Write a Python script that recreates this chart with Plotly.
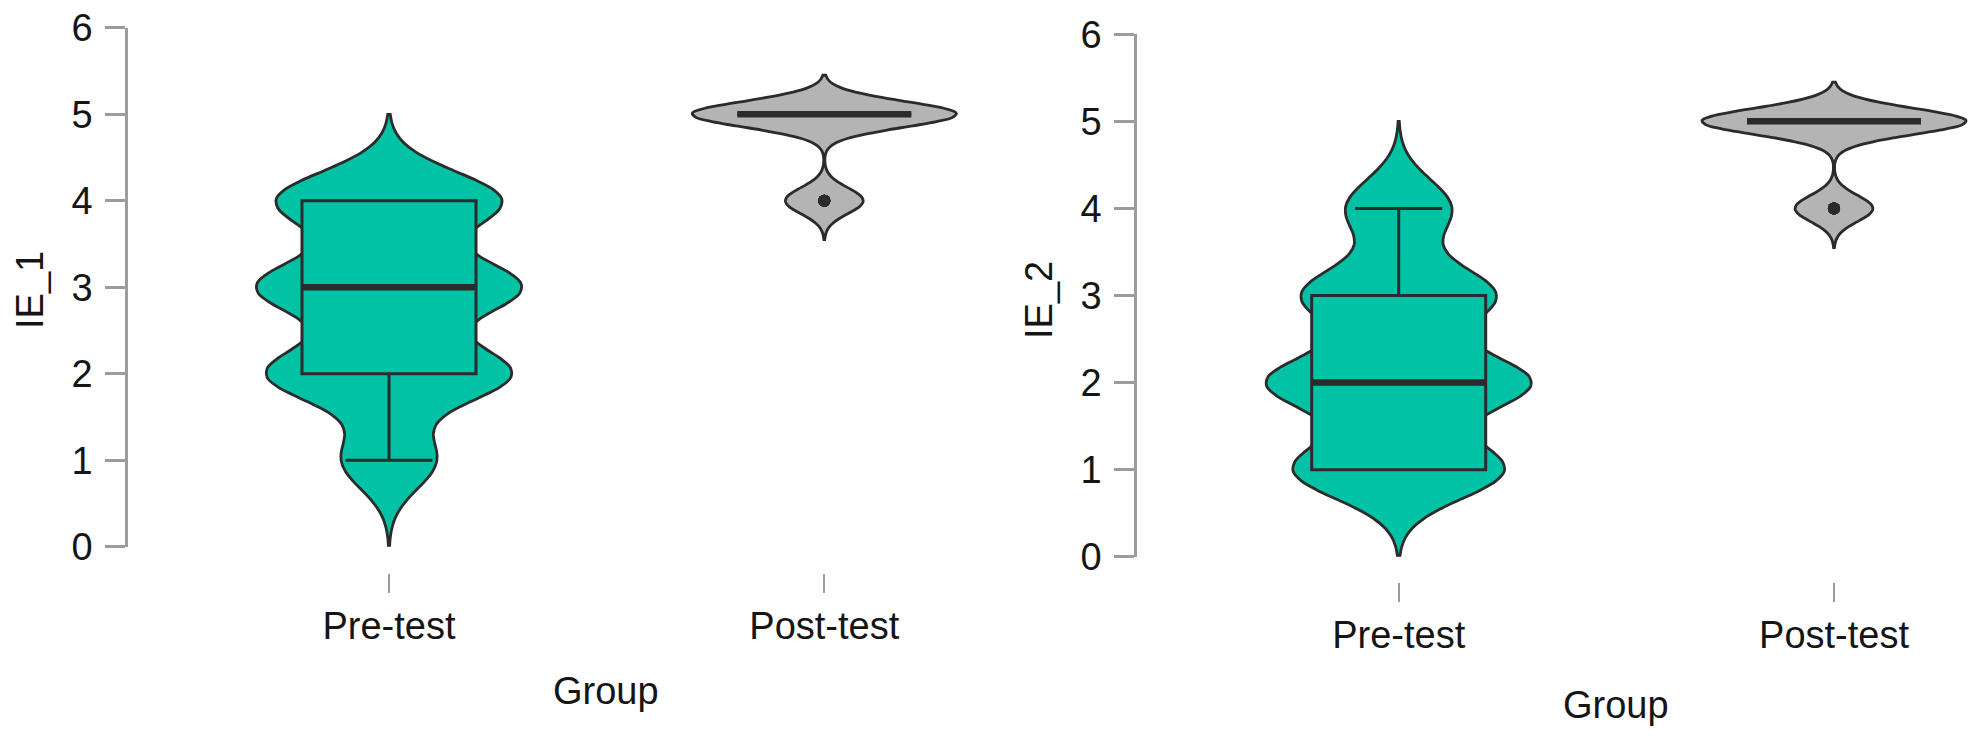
import numpy as np
import plotly.graph_objects as go

# Likert responses (1-5) summarised as counts per level
levels = [1, 2, 3, 4, 5]
groups = ["Pre-test", "Post-test"]

ie1_pre_counts = [5, 13, 14, 12, 0]
ie1_post_counts = [0, 0, 0, 10, 34]
ie2_pre_counts = [12, 15, 11, 6, 0]
ie2_post_counts = [0, 0, 0, 10, 34]

# kernel bandwidths
bw_pre = 0.333
bw_post = 0.15

GREEN = "#00C3A6"
GREY = "#B4B4B4"
DARK = "#2B2B2B"
AXIS = "#9C9C9C"
FONT = "Liberation Sans, Arial, sans-serif"
FS = 38

W, H = 1982, 737
UNIT = 435.3          # px between the two groups
VIOLIN_W = 264 / UNIT
BOX_W = 174 / UNIT


def expand(counts):
    return np.repeat(levels, counts)


def add_group(fig, vals, pos, color, bw, xa, ya):
    fig.add_trace(go.Violin(
        y=vals, x0=pos, width=VIOLIN_W, bandwidth=bw,
        spanmode="manual", span=[vals.min() - 3 * bw, vals.max() + 3 * bw],
        fillcolor=color, line=dict(color=DARK, width=2.8), opacity=1,
        points=False, box_visible=False, meanline_visible=False,
        scalemode="width", hoverinfo="skip", xaxis=xa, yaxis=ya,
    ))
    fig.add_trace(go.Box(
        y=vals, x0=pos, width=BOX_W, whiskerwidth=0.5,
        fillcolor=color, line=dict(color=DARK, width=3),
        boxpoints="outliers", jitter=0, pointpos=0,
        marker=dict(color=DARK, size=12),
        hoverinfo="skip", xaxis=xa, yaxis=ya,
    ))
    med = float(np.median(vals))
    fig.add_trace(go.Scatter(
        x=[pos - BOX_W / 2, pos + BOX_W / 2], y=[med, med], mode="lines",
        line=dict(color=DARK, width=6.5), hoverinfo="skip",
        xaxis=xa, yaxis=ya,
    ))


fig = go.Figure()
panels = [
    (ie1_pre_counts, ie1_post_counts, "x", "y"),
    (ie2_pre_counts, ie2_post_counts, "x2", "y2"),
]
for pre, post, xa, ya in panels:
    add_group(fig, expand(pre), 0, GREEN, bw_pre, xa, ya)
    add_group(fig, expand(post), 1, GREY, bw_post, xa, ya)


def xaxis_cfg(left_px, right_px, center0_px, tick_top_px):
    lo = (left_px - center0_px) / UNIT
    hi = (right_px - center0_px) / UNIT
    return dict(
        domain=[left_px / W, right_px / W], range=[lo, hi],
        anchor="free", position=(H - tick_top_px) / H,
        showline=False, showgrid=False, zeroline=False,
        tickvals=[0, 1], ticktext=groups,
        ticks="outside", ticklen=19, tickwidth=2, tickcolor=AXIS,
        tickfont=dict(size=FS, color="#151515", family=FONT),
        automargin=False, fixedrange=True,
    )


def yaxis_cfg(y0_px, y6_px, anchor):
    return dict(
        domain=[(H - y0_px) / H, (H - y6_px) / H], range=[0, 6],
        anchor=anchor, showline=True, linecolor=AXIS, linewidth=2.5,
        showgrid=False, zeroline=False,
        tickvals=[0, 1, 2, 3, 4, 5, 6],
        ticks="outside", ticklen=20, tickwidth=2.5, tickcolor=AXIS,
        tickfont=dict(size=FS, color="#151515", family=FONT),
        ticklabelstandoff=5, automargin=False, fixedrange=True,
    )


def label(text, x_px, y_px, angle=0):
    return dict(text=text, x=x_px / W, y=(H - y_px) / H,
                xref="paper", yref="paper", xanchor="center", yanchor="middle",
                showarrow=False, textangle=angle, font=dict(size=FS))


fig.update_layout(
    width=W, height=H,
    margin=dict(l=0, r=0, t=0, b=0, autoexpand=False),
    paper_bgcolor="white", plot_bgcolor="white",
    showlegend=False,
    violinmode="overlay", boxmode="overlay",
    font=dict(family=FONT, size=FS, color="#151515"),
    xaxis=xaxis_cfg(128, 1010, 389, 573),
    yaxis=yaxis_cfg(546.7, 27.7, "x"),
    xaxis2=xaxis_cfg(1137, 1975, 1398.7, 582),
    yaxis2=yaxis_cfg(556.7, 34.3, "x2"),
    annotations=[
        label("Group", 606, 691),
        label("Group", 1616, 705),
        label("IE_1", 30, 290, -90),
        label("IE_2", 1039, 300, -90),
    ],
)

fig.write_html("out.html", config={"displayModeBar": False},
               post_script="document.body.style.margin = '0';")
